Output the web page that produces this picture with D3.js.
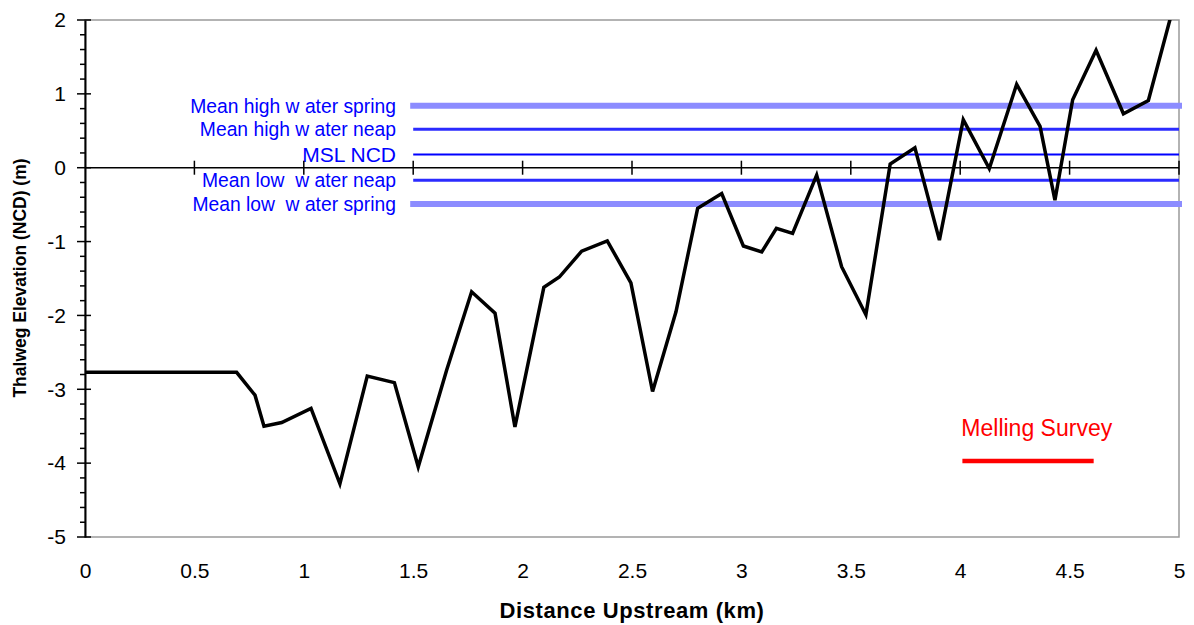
<!DOCTYPE html>
<html>
<head>
<meta charset="utf-8">
<script src="https://cdn.jsdelivr.net/npm/d3@7/dist/d3.min.js"></script>
<style>
  html, body { margin: 0; padding: 0; background: #fff; }
  svg { display: block; font-family: "Liberation Sans", Arial, sans-serif; }
</style>
</head>
<body>
<svg id="chart" width="1194" height="625"></svg>
<script>
// Thalweg long profile (distance upstream, km vs elevation, m NCD)
const distanceKm = [0, 0.693, 0.777, 0.818, 0.899, 1.033, 1.165, 1.29, 1.414, 1.523,
  1.653, 1.767, 1.874, 1.965, 2.097, 2.168, 2.270, 2.387, 2.495, 2.594, 2.701, 2.800,
  2.910, 3.009, 3.093, 3.160, 3.234, 3.344, 3.458, 3.569, 3.680, 3.793, 3.905, 4.014,
  4.133, 4.258, 4.365, 4.433, 4.514, 4.621, 4.746, 4.860, 4.960];
const elevation = [-2.77, -2.77, -3.08, -3.50, -3.45, -3.26, -4.28, -2.82, -2.91, -4.05,
  -2.74, -1.68, -1.97, -3.51, -1.62, -1.48, -1.13, -0.99, -1.56, -3.03, -1.95, -0.55,
  -0.35, -1.06, -1.14, -0.82, -0.89, -0.10, -1.34, -1.99, 0.05, 0.27, -0.98, 0.65,
  -0.01, 1.13, 0.56, -0.44, 0.92, 1.59, 0.73, 0.91, 2.02];

// Tidal reference levels (m NCD)
const levelNames = ["Mean high w ater spring", "Mean high w ater neap", "MSL NCD",
  "Mean low  w ater neap", "Mean low  w ater spring"];
const levelValues = [0.84, 0.52, 0.18, -0.17, -0.49];
const levelStartKm = 1.5;
const levelEndKm = 5;

// Melling survey reach
const mellingKm = [4.01, 4.61];
const mellingElev = [-3.97, -3.97];
const mellingLabel = "Melling Survey";
const mellingLabelAt = [4.35, -3.63];

// Axis ticks
const xTicks = [0, 0.5, 1, 1.5, 2, 2.5, 3, 3.5, 4, 4.5, 5];
const yTicks = [-5, -4, -3, -2, -1, 0, 1, 2];

const svg = d3.select("#chart");
const plotL = 85, plotR = 1179, plotT = 20, plotB = 537;
const x = d3.scaleLinear().domain([0, 5]).range([plotL, plotR]);
const y = d3.scaleLinear().domain([-5, 2]).range([plotB, plotT]);

svg.append("defs").append("clipPath").attr("id", "plotClip")
  .append("rect").attr("x", plotL).attr("y", plotT)
  .attr("width", plotR - plotL).attr("height", plotB - plotT);

// plot frame
svg.append("rect").attr("x", plotL).attr("y", plotT)
  .attr("width", plotR - plotL).attr("height", plotB - plotT)
  .attr("fill", "none").attr("stroke", "#9a9a9a").attr("stroke-width", 1.5);

// reference level lines
const levelStyle = [
  { w: 6, c: "#8c8cff", cap: "square", fs: "19.3px" },
  { w: 3, c: "#2b2bff", cap: "butt", fs: "19.3px" },
  { w: 2, c: "#0000ff", cap: "butt", fs: "21px" },
  { w: 3, c: "#2b2bff", cap: "butt", fs: "19.3px" },
  { w: 6, c: "#8c8cff", cap: "square", fs: "19.3px" }
];
levelValues.forEach((v, i) => {
  svg.append("line")
    .attr("x1", x(levelStartKm)).attr("x2", x(levelEndKm))
    .attr("y1", y(v)).attr("y2", y(v))
    .attr("stroke", levelStyle[i].c).attr("stroke-width", levelStyle[i].w)
    .attr("stroke-linecap", levelStyle[i].cap);
  svg.append("text")
    .attr("x", 396).attr("y", y(v))
    .attr("dy", "0.36em")
    .attr("text-anchor", "end")
    .attr("fill", "#0000ff")
    .style("font-size", levelStyle[i].fs)
    .style("white-space", "pre")
    .text(levelNames[i]);
});

// y axis (left) with minor ticks
const yAxis = d3.axisLeft(y).tickValues(yTicks).tickSize(0).tickPadding(19).tickFormat(d => String(d));
const gy = svg.append("g").attr("transform", `translate(${plotL},0)`).call(yAxis);
gy.select(".domain").attr("stroke", "#000").attr("stroke-width", 2);
gy.selectAll("text").style("font-size", "21px").attr("fill", "#000");
const minor = d3.range(-5, 2.0001, 0.2).filter(v => Math.abs(v - Math.round(v)) > 1e-6);
svg.append("g").selectAll("line").data(minor).join("line")
  .attr("x1", plotL - 5).attr("x2", plotL)
  .attr("y1", d => y(d)).attr("y2", d => y(d))
  .attr("stroke", "#000").attr("stroke-width", 1.5);
svg.append("g").selectAll("line").data(yTicks).join("line")
  .attr("x1", plotL - 8).attr("x2", plotL + 6)
  .attr("y1", d => y(d)).attr("y2", d => y(d))
  .attr("stroke", "#000").attr("stroke-width", 1.5);

// x axis drawn at zero elevation, labels along the bottom
svg.append("line").attr("x1", plotL).attr("x2", plotR)
  .attr("y1", y(0)).attr("y2", y(0))
  .attr("stroke", "#000").attr("stroke-width", 1.5);
svg.append("g").selectAll("line").data(xTicks.slice(1)).join("line")
  .attr("x1", d => x(d)).attr("x2", d => x(d))
  .attr("y1", y(0) - 7).attr("y2", y(0) + 7)
  .attr("stroke", "#000").attr("stroke-width", 1.5);
const xAxis = d3.axisBottom(x).tickValues(xTicks).tickSize(0).tickPadding(26).tickFormat(d => String(d));
const gx = svg.append("g").attr("transform", `translate(0,${plotB})`).call(xAxis);
gx.select(".domain").remove();
gx.selectAll("text").style("font-size", "21px").attr("fill", "#000");

// thalweg profile
const profile = distanceKm.map((d, i) => [d, elevation[i]]);
svg.append("path")
  .datum(profile)
  .attr("clip-path", "url(#plotClip)")
  .attr("fill", "none").attr("stroke", "#000").attr("stroke-width", 3.5)
  .attr("stroke-linejoin", "miter")
  .attr("d", d3.line().x(d => x(d[0])).y(d => y(d[1])));

// Melling survey reach
svg.append("path")
  .datum(mellingKm.map((d, i) => [d, mellingElev[i]]))
  .attr("fill", "none").attr("stroke", "#ff0000").attr("stroke-width", 4.5)
  .attr("d", d3.line().x(d => x(d[0])).y(d => y(d[1])));
svg.append("text")
  .attr("x", x(mellingLabelAt[0])).attr("y", y(mellingLabelAt[1]))
  .attr("text-anchor", "middle").attr("fill", "#ff0000")
  .style("font-size", "23px")
  .text(mellingLabel);

// axis titles
svg.append("text")
  .attr("x", 632).attr("y", 618)
  .attr("text-anchor", "middle")
  .style("font-size", "22px").style("font-weight", "bold")
  .style("letter-spacing", "0.6px")
  .text("Distance Upstream (km)");
svg.append("text")
  .attr("transform", "translate(26,278) rotate(-90)")
  .attr("text-anchor", "middle")
  .style("font-size", "17.5px").style("font-weight", "bold")
  .text("Thalweg Elevation (NCD) (m)");
</script>
</body>
</html>
